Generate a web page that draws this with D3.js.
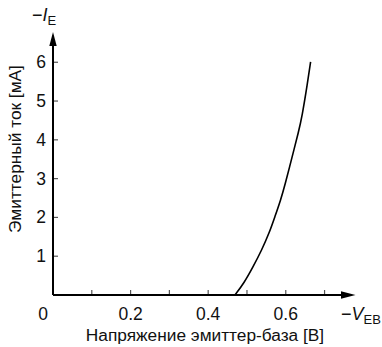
<!DOCTYPE html>
<html><head><meta charset="utf-8">
<script src="https://cdn.jsdelivr.net/npm/d3@7"></script>
<style>body{margin:0;background:#fff}svg{display:block}text{font-family:"Liberation Sans",Arial,sans-serif;fill:#111}</style>
</head><body><svg id="c" width="382" height="347"></svg>
<script>
const voltage = [0.469, 0.492, 0.516, 0.538, 0.557, 0.572, 0.587, 0.599, 0.610, 0.621, 0.632, 0.642, 0.656, 0.664];
const current = [0, 0.30, 0.73, 1.16, 1.59, 2.02, 2.45, 2.88, 3.31, 3.74, 4.17, 4.6, 5.46, 6.01];
const xTicks = [0.1, 0.2, 0.3, 0.4, 0.5, 0.6, 0.7];
const xTickLabels = ["0.2", "0.4", "0.6"];
const yTicks = [1, 2, 3, 4, 5, 6];

const svg = d3.select("#c");
const x = d3.scaleLinear().domain([0, 0.78]).range([53, 355.6]);
const y = d3.scaleLinear().domain([0, 6.78]).range([295, 32]);

// curve
const line = d3.line().x((d,i)=>x(voltage[i])).y((d,i)=>y(current[i])).curve(d3.curveBasis);
svg.append("path").datum(voltage).attr("d", line).attr("fill","none").attr("stroke","#000").attr("stroke-width",1.6);

// ticks
svg.selectAll(".xt").data(xTicks).enter().append("line")
  .attr("x1",d=>x(d)).attr("x2",d=>x(d)).attr("y1",295).attr("y2",290)
  .attr("stroke","#555").attr("stroke-width",1.2);
svg.selectAll(".yt").data(yTicks).enter().append("line")
  .attr("y1",d=>y(d)).attr("y2",d=>y(d)).attr("x1",53).attr("x2",58)
  .attr("stroke","#555").attr("stroke-width",1.2);

// axes
svg.append("line").attr("x1",53).attr("x2",343).attr("y1",295).attr("y2",295).attr("stroke","#000").attr("stroke-width",2);
svg.append("line").attr("x1",53).attr("x2",53).attr("y1",295).attr("y2",44).attr("stroke","#000").attr("stroke-width",2);
svg.append("path").attr("d",`M355.5,295 L341,291.3 L341,298.7 Z`).attr("fill","#000");
svg.append("path").attr("d",`M53,32 L49.3,46 L56.7,46 Z`).attr("fill","#000");

// tick labels
svg.selectAll(".yl").data(yTicks).enter().append("text")
  .attr("x",46).attr("y",d=>y(d)+6).attr("text-anchor","end").attr("font-size",17.5).text(d=>d);
svg.append("text").attr("x",43).attr("y",320).attr("text-anchor","middle").attr("font-size",17.5).text("0");
svg.selectAll(".xl").data(xTickLabels).enter().append("text")
  .attr("x",d=>x(+d)).attr("y",320).attr("text-anchor","middle").attr("font-size",17.5).text(d=>d);

// axis symbols
const ti = svg.append("text").attr("x",32).attr("y",21).attr("font-size",18);
ti.append("tspan").text("\u2212");
ti.append("tspan").attr("font-style","italic").text("I");
ti.append("tspan").attr("font-size",13).attr("dy",4).text("E");
const tv = svg.append("text").attr("x",341).attr("y",320).attr("font-size",18);
tv.append("tspan").text("\u2212");
tv.append("tspan").attr("font-style","italic").text("V");
tv.append("tspan").attr("font-size",13).attr("dy",4).text("EB");

// axis titles
svg.append("text").attr("x",205).attr("y",341).attr("text-anchor","middle").attr("font-size",17.3).text("Напряжение эмиттер-база [В]");
svg.append("text").attr("transform","translate(21,149) rotate(-90)").attr("text-anchor","middle").attr("font-size",17.3).text("Эмиттерный ток [мА]");
</script></body></html>
